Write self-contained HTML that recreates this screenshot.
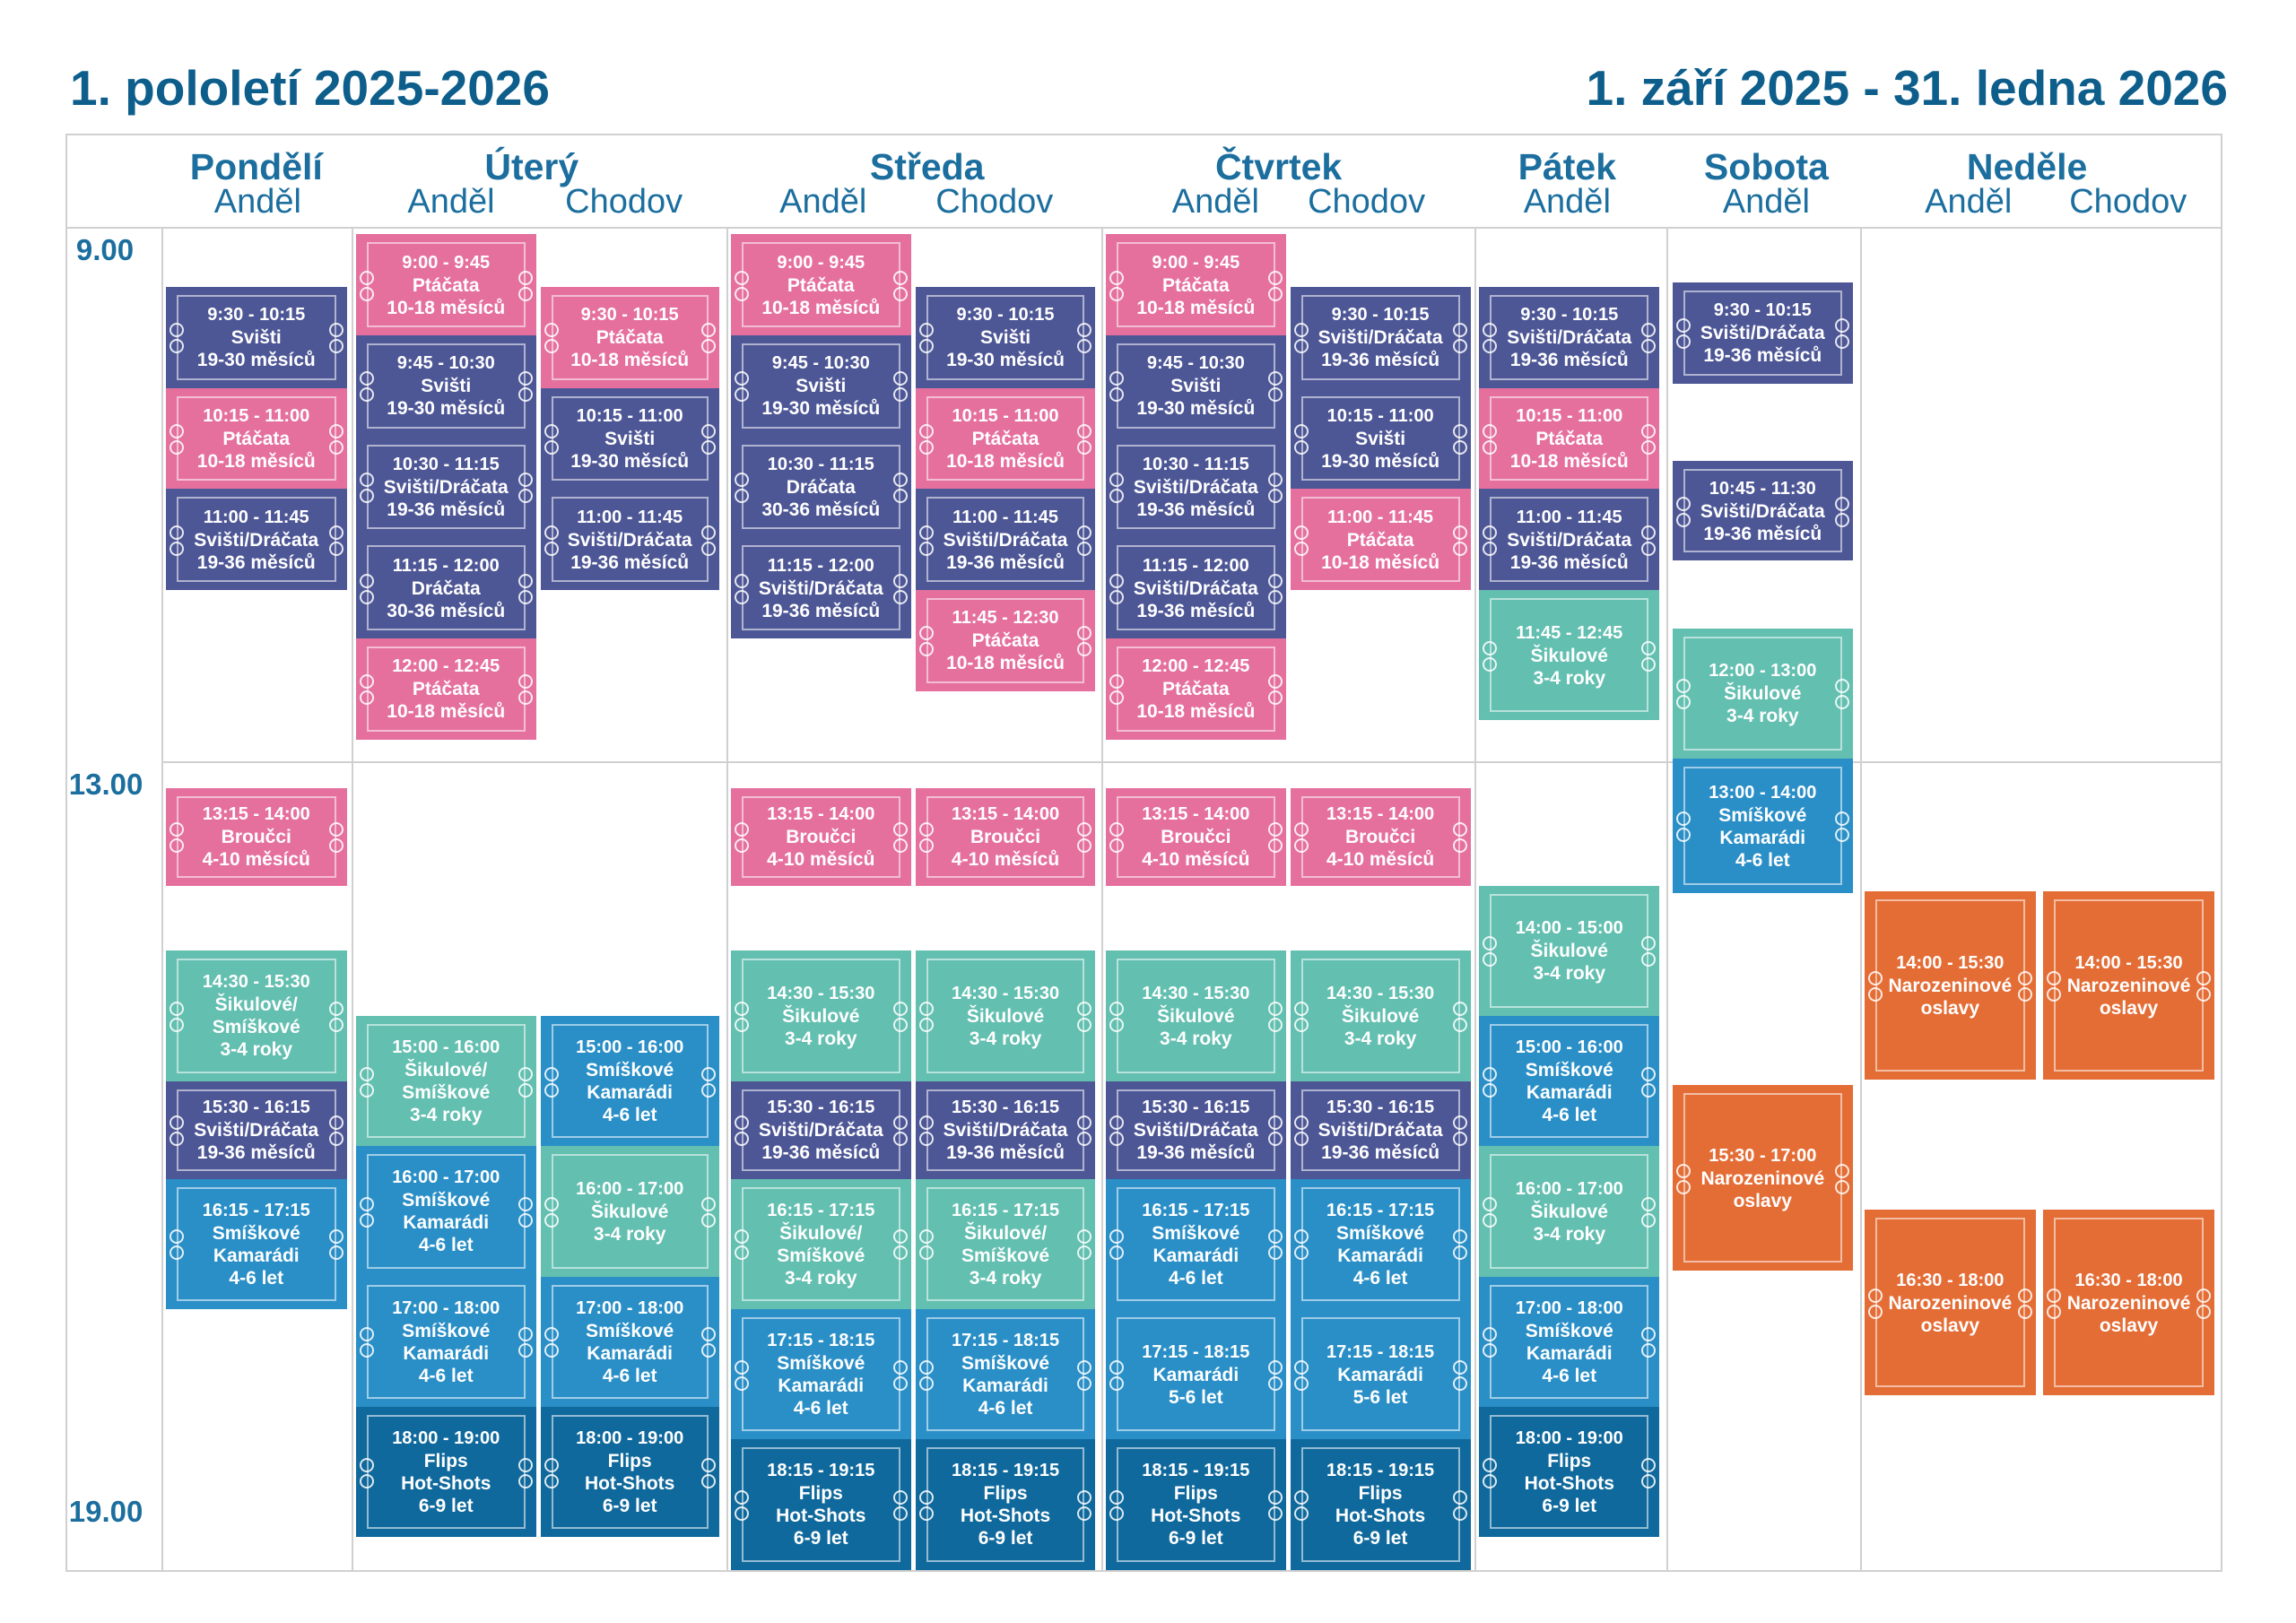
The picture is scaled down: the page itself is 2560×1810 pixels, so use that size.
<!DOCTYPE html>
<html><head><meta charset="utf-8">
<style>
body{margin:0;background:#fff;width:2560px;height:1810px;position:relative;overflow:hidden;font-family:"Liberation Sans",sans-serif;}
.a{position:absolute;}
.t{color:#0E5E8C;font-weight:bold;font-size:55px;letter-spacing:0px;top:66px;white-space:nowrap;}
.line{position:absolute;background:#d0d0d0;}
.dn{position:absolute;color:#1B6E9E;font-weight:bold;font-size:41px;text-align:center;transform:translateX(-50%);white-space:nowrap;}
.sb{position:absolute;color:#1B6E9E;font-size:38px;text-align:center;transform:translateX(-50%);white-space:nowrap;}
.tm{position:absolute;color:#1B6E9E;font-weight:bold;font-size:33px;}
.b{position:absolute;box-sizing:border-box;color:#fff;font-weight:bold;display:flex;align-items:center;justify-content:center;text-align:center;font-size:21px;line-height:25px;}
.b .in{position:absolute;left:12px;right:12px;top:9px;bottom:9px;border:2px solid rgba(255,255,255,0.55);}
.b .c{position:absolute;width:12px;height:12px;border:2px solid rgba(255,255,255,0.85);border-radius:50%;}
.b .tx{position:relative;z-index:2;}
.b .tx span{font-size:20px;}
</style></head><body>
<div class="a t" style="left:78px;">1. pololetí 2025-2026</div>
<div class="a t" style="right:76px;">1. září 2025 - 31. ledna 2026</div>
<div id="g"></div>
<script>
var S=1.633,g=document.getElementById('g'),h='';
function L(x,y,w,hh){h+='<div class="line" style="left:'+x+'px;top:'+y+'px;width:'+w+'px;height:'+hh+'px"></div>';}
L(45*S,91*S,1471*S,2);L(45*S,1072*S,1471*S+2,2);L(45*S,91*S,2,981*S);L(1516*S,91*S,2,981*S+2);
L(45*S,155*S,1471*S,2);L(110*S,520*S,1406*S,2);
[110,240,496,752,1007,1138,1270].forEach(function(x){L(x*S,155*S,2,917*S);});
[['Pondělí',175],['Úterý',363],['Středa',633],['Čtvrtek',873],['Pátek',1070],['Sobota',1206],['Neděle',1384]].forEach(function(d){h+='<div class="dn" style="left:'+d[1]*S+'px;top:'+(100*S)+'px">'+d[0]+'</div>';});
[['Anděl',176],['Anděl',308],['Chodov',426],['Anděl',562],['Chodov',679],['Anděl',830],['Chodov',933],['Anděl',1070],['Anděl',1206],['Anděl',1344],['Chodov',1453]].forEach(function(d){h+='<div class="sb" style="left:'+d[1]*S+'px;top:'+(125*S)+'px">'+d[0]+'</div>';});
h+='<div class="tm" style="left:'+52*S+'px;top:'+159*S+'px">9.00</div>';
h+='<div class="tm" style="left:'+47*S+'px;top:'+524*S+'px">13.00</div>';
h+='<div class="tm" style="left:'+47*S+'px;top:'+1021*S+'px">19.00</div>';
var C={p:'#E5709E',i:'#4E5796',t:'#63BFB0',b:'#2A8FC7',d:'#10699C',o:'#E46D36'};
var OFF={PA:1,UC:1,SC:1,CC:1,P:1};
function y(t,col){if(t<=13){return OFF[col]?196+(t-9.5)*92:160+(t-9)*92;}return 538+(t-13.25)*89;}
function tt(s){var p=s.split(':');return +p[0]+(+p[1])/60;}
var cols={PA:[113,237],UA:[243,366],UC:[369,491],SA:[499,622],SC:[625,748],CA:[755,878],CC:[881,1004],P:[1010,1133],SO:[1142,1265],NA:[1273,1390],NC:[1395,1512]};
function B(col,a,z,c,txt,y0,y1){var x=cols[col];var top=y0!==undefined?y0:y(tt(a),col),bot=y1!==undefined?y1:y(tt(z),col);
var X=x[0]*S,W=(x[1]-x[0])*S,Y=top*S,H=(bot-top)*S;
var cy=H/2-16;
h+='<div class="b" style="left:'+X+'px;top:'+Y+'px;width:'+W+'px;height:'+H+'px;background:'+C[c]+'"><div class="in"></div>'+
'<div class="c" style="left:4px;top:'+cy+'px"></div><div class="c" style="left:4px;top:'+(cy+18)+'px"></div>'+
'<div class="c" style="right:4px;top:'+cy+'px"></div><div class="c" style="right:4px;top:'+(cy+18)+'px"></div>'+
'<div class="tx"><span>'+a+' - '+z+'</span><br>'+txt+'</div></div>';}
var SV='Svišti<br>19-30 měsíců',SD='Svišti/Dráčata<br>19-36 měsíců',PT='Ptáčata<br>10-18 měsíců',DR='Dráčata<br>30-36 měsíců',BR='Broučci<br>4-10 měsíců',
SS='Šikulové/<br>Smíškové<br>3-4 roky',SI='Šikulové<br>3-4 roky',SK='Smíškové<br>Kamarádi<br>4-6 let',FL='Flips<br>Hot-Shots<br>6-9 let',KA='Kamarádi<br>5-6 let',NO='Narozeninové<br>oslavy';
B('PA','9:30','10:15','i',SV);B('PA','10:15','11:00','p',PT);B('PA','11:00','11:45','i',SD);B('PA','13:15','14:00','p',BR);
B('PA','14:30','15:30','t',SS);B('PA','15:30','16:15','i',SD);B('PA','16:15','17:15','b',SK);
B('UA','9:00','9:45','p',PT);B('UA','9:45','10:30','i',SV);B('UA','10:30','11:15','i',SD);B('UA','11:15','12:00','i',DR);B('UA','12:00','12:45','p',PT);
B('UA','15:00','16:00','t',SS);B('UA','16:00','17:00','b',SK);B('UA','17:00','18:00','b',SK);B('UA','18:00','19:00','d',FL);
B('UC','9:30','10:15','p',PT);B('UC','10:15','11:00','i',SV);B('UC','11:00','11:45','i',SD);
B('UC','15:00','16:00','b',SK);B('UC','16:00','17:00','t',SI);B('UC','17:00','18:00','b',SK);B('UC','18:00','19:00','d',FL);
B('SA','9:00','9:45','p',PT);B('SA','9:45','10:30','i',SV);B('SA','10:30','11:15','i',DR);B('SA','11:15','12:00','i',SD);
B('SC','9:30','10:15','i',SV);B('SC','10:15','11:00','p',PT);B('SC','11:00','11:45','i',SD);B('SC','11:45','12:30','p',PT);
['SA','SC'].forEach(function(k){B(k,'13:15','14:00','p',BR);B(k,'14:30','15:30','t',SI);B(k,'15:30','16:15','i',SD);B(k,'16:15','17:15','t',SS);B(k,'17:15','18:15','b',SK);B(k,'18:15','19:15','d',FL);});
B('CA','9:00','9:45','p',PT);B('CA','9:45','10:30','i',SV);B('CA','10:30','11:15','i',SD);B('CA','11:15','12:00','i',SD);B('CA','12:00','12:45','p',PT);
B('CC','9:30','10:15','i',SD);B('CC','10:15','11:00','i',SV);B('CC','11:00','11:45','p',PT);
['CA','CC'].forEach(function(k){B(k,'13:15','14:00','p',BR);B(k,'14:30','15:30','t',SI);B(k,'15:30','16:15','i',SD);B(k,'16:15','17:15','b',SK);B(k,'17:15','18:15','b',KA);B(k,'18:15','19:15','d',FL);});
B('P','9:30','10:15','i',SD);B('P','10:15','11:00','p',PT);B('P','11:00','11:45','i',SD);B('P','11:45','12:45','t',SI,403,492);
B('P','14:00','15:00','t',SI);B('P','15:00','16:00','b',SK);B('P','16:00','17:00','t',SI);B('P','17:00','18:00','b',SK);B('P','18:00','19:00','d',FL);
B('SO','9:30','10:15','i',SD,193,262);B('SO','10:45','11:30','i',SD,315,383);B('SO','12:00','13:00','t',SI,429,518);B('SO','13:00','14:00','b',SK,518,610);
B('SO','15:30','17:00','o',NO,741,868);
B('NA','14:00','15:30','o',NO,609,737);B('NC','14:00','15:30','o',NO,609,737);
B('NA','16:30','18:00','o',NO,826,953);B('NC','16:30','18:00','o',NO,826,953);
g.innerHTML=h;
</script>
</body></html>
